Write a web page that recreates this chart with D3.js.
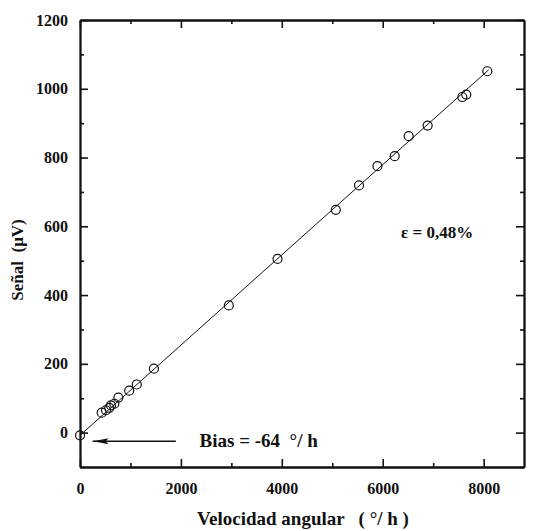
<!DOCTYPE html>
<html>
<head>
<meta charset="utf-8">
<script src="https://cdn.jsdelivr.net/npm/d3@7"></script>
<style>
  html, body { margin: 0; padding: 0; background: #fff; }
  svg text { font-family: "Liberation Serif", "Times New Roman", serif; fill: #111; }
</style>
</head>
<body>
<svg id="chart" width="534" height="531"></svg>
<script>
// measured points: angular rate (deg/h) vs signal (uV)
const velocidad = [0, 430, 515, 580, 614, 680, 760, 975, 1125, 1465, 2950, 3915, 5070, 5530, 5895, 6237, 6515, 6890, 7578, 7656, 8073];
const senal     = [-8, 58, 65, 72, 79, 84, 102, 122, 140, 186, 370, 505, 648, 719, 775, 804, 862, 893, 976, 983, 1051];

// fitted line endpoints
const fitX = [0, 8100];
const fitY = [-8, 1055];

const xMajor = [0, 2000, 4000, 6000, 8000];
const xMinor = [1000, 3000, 5000, 7000];
const yMajor = [0, 200, 400, 600, 800, 1000, 1200];
const yMinor = [-100, 100, 300, 500, 700, 900, 1100];

const FONT = "Liberation Serif, Times New Roman, serif";
const svg = d3.select("#chart");
const padL = 80, padR = 524, padT = 20, padB = 467;

const x = d3.scaleLinear().domain([0, 8800]).range([padL, padR]);
const y = d3.scaleLinear().domain([-100, 1200]).range([padB, padT]);

// frame axes, ticks point inwards
function styleAxis(g) {
  g.attr("font-family", FONT);
  g.select(".domain").attr("stroke", "#111").attr("stroke-width", 1.8);
  g.selectAll(".tick line").attr("stroke", "#111").attr("stroke-width", 1.6);
  g.selectAll(".tick text")
    .attr("font-size", 16)
    .attr("font-weight", "bold")
    .attr("fill", "#111");
}

// bottom
svg.append("g").attr("transform", `translate(0,${padB})`)
  .call(d3.axisBottom(x).tickValues(xMajor).tickSizeInner(-8).tickSizeOuter(0).tickPadding(16).tickFormat(d3.format("d")))
  .call(styleAxis);
svg.append("g").attr("transform", `translate(0,${padB})`)
  .call(d3.axisBottom(x).tickValues(xMinor).tickSizeInner(-4).tickSizeOuter(0).tickFormat(""))
  .call(styleAxis);

// top
svg.append("g").attr("transform", `translate(0,${padT})`)
  .call(d3.axisTop(x).tickValues(xMajor).tickSizeInner(-8).tickSizeOuter(0).tickFormat(""))
  .call(styleAxis);
svg.append("g").attr("transform", `translate(0,${padT})`)
  .call(d3.axisTop(x).tickValues(xMinor).tickSizeInner(-4).tickSizeOuter(0).tickFormat(""))
  .call(styleAxis);

// left
svg.append("g").attr("transform", `translate(${padL},0)`)
  .call(d3.axisLeft(y).tickValues(yMajor).tickSizeInner(-8).tickSizeOuter(0).tickPadding(12).tickFormat(d3.format("d")))
  .call(styleAxis);
svg.append("g").attr("transform", `translate(${padL},0)`)
  .call(d3.axisLeft(y).tickValues(yMinor).tickSizeInner(-4).tickSizeOuter(0).tickFormat(""))
  .call(styleAxis);

// right
svg.append("g").attr("transform", `translate(${padR},0)`)
  .call(d3.axisRight(y).tickValues(yMajor).tickSizeInner(-8).tickSizeOuter(0).tickFormat(""))
  .call(styleAxis);
svg.append("g").attr("transform", `translate(${padR},0)`)
  .call(d3.axisRight(y).tickValues(yMinor).tickSizeInner(-4).tickSizeOuter(0).tickFormat(""))
  .call(styleAxis);

// fit line
svg.append("path")
  .datum(d3.zip(fitX, fitY))
  .attr("fill", "none")
  .attr("stroke", "#111")
  .attr("stroke-width", 1)
  .attr("d", d3.line().x(d => x(d[0])).y(d => y(d[1])));

// data markers
svg.selectAll("circle.pt")
  .data(d3.zip(velocidad, senal))
  .join("circle")
  .attr("class", "pt")
  .attr("cx", d => x(d[0]))
  .attr("cy", d => y(d[1]))
  .attr("r", 4.5)
  .attr("fill", "none")
  .attr("stroke", "#111")
  .attr("stroke-width", 1.2);

// bias arrow (tip at the end of the line, pointing left)
svg.append("defs").append("marker")
  .attr("id", "head")
  .attr("viewBox", "0 0 16 6")
  .attr("refX", 16).attr("refY", 3)
  .attr("markerUnits", "userSpaceOnUse")
  .attr("markerWidth", 16).attr("markerHeight", 6)
  .attr("orient", "auto")
  .append("path").attr("d", "M16,3 L0,0 L3,3 L0,6 Z").attr("fill", "#111");

svg.append("line")
  .attr("x1", x(1900)).attr("y1", y(-25))
  .attr("x2", x(250)).attr("y2", y(-25))
  .attr("stroke", "#111").attr("stroke-width", 1.6)
  .attr("marker-end", "url(#head)");

svg.append("text")
  .attr("x", x(2370)).attr("y", y(-25) + 6)
  .attr("font-family", FONT)
  .attr("font-size", 19)
  .attr("font-weight", "bold")
  .attr("xml:space", "preserve")
  .text("Bias = -64  °/ h");

svg.append("text")
  .attr("x", 401).attr("y", 238)
  .attr("font-family", FONT)
  .attr("font-size", 17)
  .attr("font-weight", "bold")
  .text("ε = 0,48%");

// axis titles
svg.append("text")
  .attr("x", 303).attr("y", 525)
  .attr("text-anchor", "middle")
  .attr("font-family", FONT)
  .attr("font-size", 19)
  .attr("font-weight", "bold")
  .attr("xml:space", "preserve")
  .text("Velocidad angular   ( °/ h )");

svg.append("text")
  .attr("transform", "translate(23,260) rotate(-90)")
  .attr("text-anchor", "middle")
  .attr("font-family", FONT)
  .attr("font-size", 17)
  .attr("font-weight", "bold")
  .attr("xml:space", "preserve")
  .text("Señal  (μV)");
</script>
</body>
</html>
